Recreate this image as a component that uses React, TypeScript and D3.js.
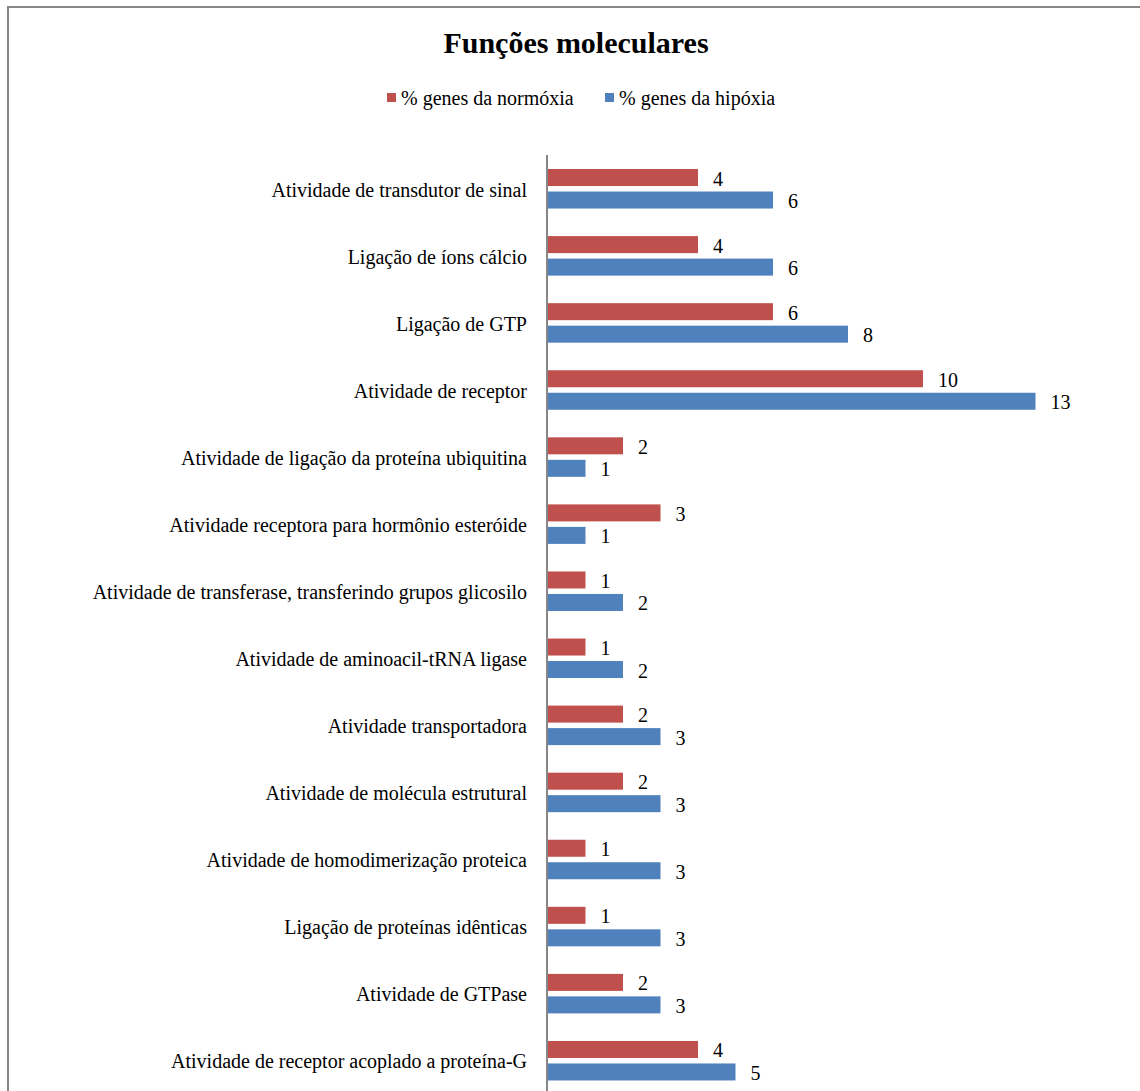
import React from "react";
import * as d3 from "d3";

const categories = [
  "Atividade de transdutor de sinal",
  "Ligação de íons cálcio",
  "Ligação de GTP",
  "Atividade de receptor",
  "Atividade de ligação da proteína ubiquitina",
  "Atividade receptora para hormônio esteróide",
  "Atividade de transferase, transferindo grupos glicosilo",
  "Atividade de aminoacil-tRNA ligase",
  "Atividade transportadora",
  "Atividade de molécula estrutural",
  "Atividade de homodimerização proteica",
  "Ligação de proteínas idênticas",
  "Atividade de GTPase",
  "Atividade de receptor acoplado a proteína-G",
];

const normoxia = [4, 4, 6, 10, 2, 3, 1, 1, 2, 2, 1, 1, 2, 4];
const hipoxia = [6, 6, 8, 13, 1, 1, 2, 2, 3, 3, 3, 3, 3, 5];

const seriesNames = ["% genes da normóxia", "% genes da hipóxia"];
const seriesColors = ["#C0504D", "#4F81BD"];

const W = 1140;
const H = 1091;
const FONT = "Liberation Serif, Times New Roman, Times, DejaVu Serif, serif";

export default function App() {
  const y = d3.scaleBand<string>().domain(categories).range([155, 1094]).padding(0);
  const sub = d3
    .scaleBand<number>()
    .domain([0, 1])
    .range([-19.5, 20])
    .paddingInner(0.244)
    .paddingOuter(0);
  const x = d3.scaleLinear().domain([0, 14]).range([548, 1073]);
  const series = [normoxia, hipoxia];
  const txt = { fontFamily: FONT };

  return (
    <svg
      width={W}
      height={H}
      style={{ position: "absolute", left: 0, top: 0, background: "#fff", fontFamily: FONT }}
    >
      <rect x={0} y={0} width={W} height={H} fill="#fff" />
      <rect x={8} y={7} width={W + 20} height={H + 20} fill="none" stroke="#878787" strokeWidth={2} />

      <text x={576} y={53} textAnchor="middle" fontSize={30} fontWeight="bold" fill="#000" style={txt}>
        Funções moleculares
      </text>

      {/* legend */}
      <g>
        <rect x={387} y={93} width={9} height={9} fill={seriesColors[0]} />
        <text x={401} y={98} dominantBaseline="central" fontSize={20} fill="#000" style={txt}>
          {seriesNames[0]}
        </text>
        <rect x={605} y={93} width={9} height={9} fill={seriesColors[1]} />
        <text x={619} y={98} dominantBaseline="central" fontSize={20} fill="#000" style={txt}>
          {seriesNames[1]}
        </text>
      </g>

      {categories.map((c, i) => {
        const cy = (y(c) as number) + y.bandwidth() / 2;
        return (
          <g key={c}>
            <text
              x={527}
              y={cy + 1}
              textAnchor="end"
              dominantBaseline="central"
              fontSize={20}
              fill="#000"
              style={txt}
            >
              {c}
            </text>
            {series.map((s, k) => {
              const by = cy + (sub(k) as number);
              const bh = sub.bandwidth();
              return (
                <g key={k}>
                  <rect
                    x={x(0)}
                    y={by}
                    width={x(s[i]) - x(0)}
                    height={bh}
                    fill={seriesColors[k]}
                  />
                  <text
                    x={x(s[i]) + 15}
                    y={by + bh / 2 + 1}
                    dominantBaseline="central"
                    fontSize={20}
                    fill="#000"
                    style={txt}
                  >
                    {s[i]}
                  </text>
                </g>
              );
            })}
          </g>
        );
      })}

      <line x1={547} x2={547} y1={155} y2={H} stroke="#868686" strokeWidth={2} />
    </svg>
  );
}
